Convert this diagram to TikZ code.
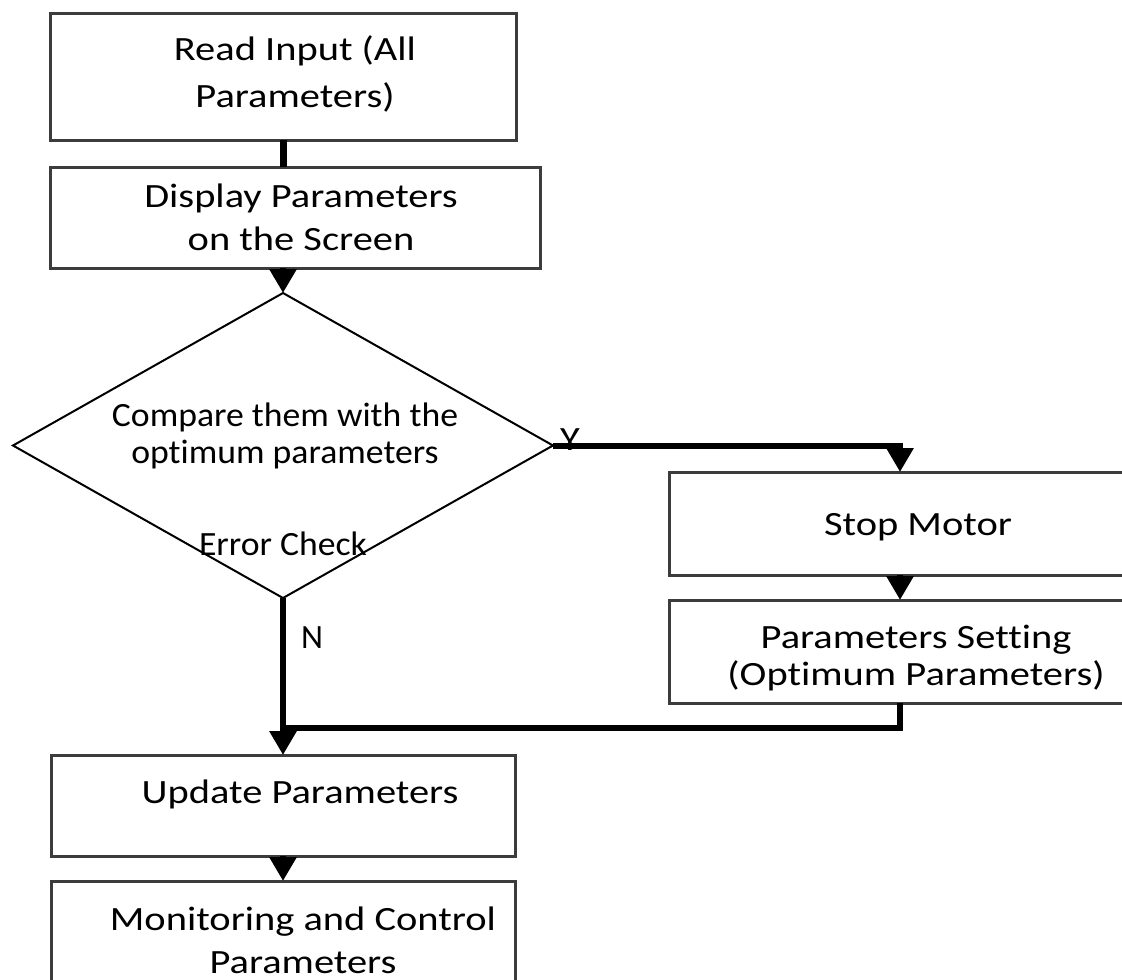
\documentclass[tikz,border=0pt]{standalone}
\usepackage{fontspec}
\setmainfont{Carlito}[Ligatures=CommonOff]
\newfontfamily\widefont[FakeStretch=1.19,Ligatures=CommonOff]{Carlito}
\newfontfamily\diafont[FakeStretch=1.05,Ligatures=CommonOff]{Carlito}
\usetikzlibrary{arrows.meta,shapes.geometric}
\definecolor{boxgray}{RGB}{60,60,60}
\begin{document}
\begin{tikzpicture}[x=1pt,y=-1pt,
  box/.style={draw=boxgray, line width=3pt, rectangle, inner sep=0pt, outer sep=0pt},
  txt/.style={align=center, font=\widefont\fontsize{34}{43}\selectfont, inner sep=0pt, anchor=base},
  conn/.style={line width=6pt, black},
  arr/.style={conn, -{Triangle[width=26pt,length=24pt]}},
  dia/.style={draw=black, line width=2pt, diamond, inner sep=0pt, outer sep=0pt, aspect=1.77}]
\useasboundingbox (0,0) rectangle (1122,980);
\clip (0,0) rectangle (1122,980);
% boxes
\node[box, minimum width=466pt, minimum height=127pt] (b1) at (283,76.5) {};
\node[box, minimum width=490pt, minimum height=101pt] (b2) at (295,217.5) {};
\node[dia, minimum width=540pt, minimum height=305pt] (d) at (283,445.5) {};
\node[box, minimum width=496pt, minimum height=103pt] (sm) at (917,523.5) {};
\node[box, minimum width=496pt, minimum height=103pt] (ps) at (917,651.5) {};
\node[box, minimum width=464pt, minimum height=101pt] (up) at (283,805.5) {};
\node[box, minimum width=464pt, minimum height=119pt] (mon) at (283,940.5) {};
\coordinate (ycol) at (900,446);
\coordinate (join) at (283,728);
% connectors
\draw[conn, line width=7pt] (b1.south) -- (b1.south |- b2.north);
\draw[arr] (b2.south -| d.north) -- (d.north);
\draw[arr] (d.east) -- (d.east -| ycol) -- (ycol |- sm.north);
\draw[arr] (ycol |- sm.south) -- (ycol |- ps.north);
\draw[conn] (ycol |- ps.south) -- (ycol |- join) -- (join);
\draw[arr] (d.south) -- (d.south |- up.north);
\draw[arr] (up.south) -- (mon.north);
% texts (anchor base = baseline of the last line)
\node[txt, font=\widefont\fontsize{34}{47}\selectfont] (t1) at (295,107) {Read Input (All\\Parameters)};
\node[txt] (t2) at (301,250) {Display Parameters\\on the Screen};
\node[txt, font=\diafont\fontsize{34}{37}\selectfont] (t3) at (285,463) {Compare them with the\\optimum parameters};
\node[txt, font=\diafont\fontsize{34}{37}\selectfont] (t4) at (283,555) {Error Check};
\node[txt] (t5) at (918,535) {Stop Motor};
\node[txt, font=\widefont\fontsize{34}{37}\selectfont] (t6) at (916,685) {Parameters Setting\\(Optimum Parameters)};
\node[txt] (t7) at (300,803) {Update Parameters};
\node[txt] (t8) at (303,973) {Monitoring and Control\\Parameters};
\node[txt] (ly) at (570,450) {Y};
\node[txt, font=\fontsize{34}{40}\selectfont] (ln) at (312,648) {N};
\end{tikzpicture}
\end{document}
